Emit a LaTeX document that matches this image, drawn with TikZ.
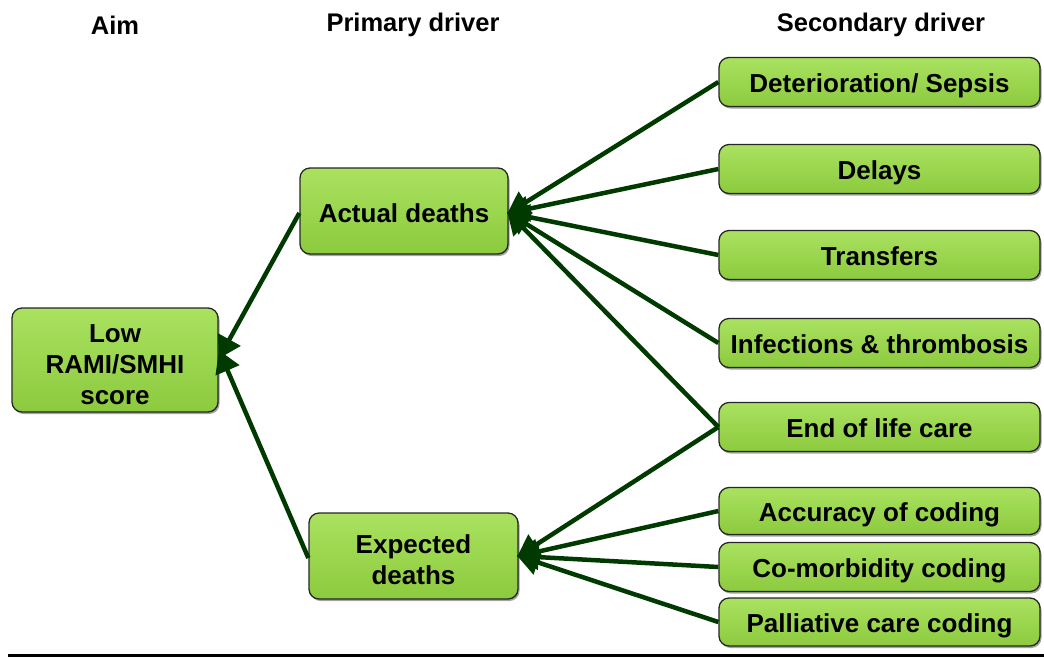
\documentclass[tikz,border=0pt]{standalone}
\usepackage{fontspec}
\setmainfont{Liberation Sans}
\usetikzlibrary{arrows.meta,shadows}
\definecolor{boxtop}{RGB}{170,226,96}
\definecolor{boxbot}{RGB}{140,202,62}
\definecolor{arrowgreen}{RGB}{0,58,0}
\tikzset{
  drv/.style={draw=black!85, line width=1.3pt, rounded corners=10pt,
    top color=boxtop, bottom color=boxbot, align=center,
    font=\fontsize{26}{31}\selectfont\bfseries, inner sep=0pt,
    drop shadow={shadow xshift=1.5pt, shadow yshift=-2pt, fill=black!60, opacity=.6}},
  aimbox/.style={drv, minimum width=206pt, minimum height=104pt},
  primbox/.style={drv, minimum width=208pt, minimum height=86pt},
  secbox/.style={drv, minimum width=321pt, minimum height=49pt, text height=27pt, text depth=6pt},
  hdr/.style={font=\fontsize{25.5}{30}\selectfont\bfseries, inner sep=0pt},
  conn/.style={draw=arrowgreen, line width=4.5pt,
    -{Triangle[length=22pt,width=25pt]}, shorten >=-2pt},
}
\newcommand{\topgap}[1]{\rule{0pt}{#1}}
\begin{document}
\begin{tikzpicture}[x=1pt,y=-1pt]
\useasboundingbox (0,0) rectangle (1044,657);
% headers
\node[hdr] (h1) at (115,25) {Aim};
\node[hdr] (h2) at (413,25) {Primary driver};
\node[hdr] (h3) at (881,25) {Secondary driver};
% nodes
\node[aimbox] (aim) at (115,360) {\topgap{27pt}Low\\RAMI/SMHI\\score};
\node[primbox, text height=28pt, text depth=6pt] (actual) at (404,211) {Actual deaths};
\node[primbox, minimum width=209pt] (expected) at (413.5,556) {\topgap{26pt}Expected\\deaths};
\node[secbox] (s1) at (879.5,82) {Deterioration/ Sepsis};
\node[secbox] (s2) at (879.5,169) {Delays};
\node[secbox] (s3) at (879.5,255) {Transfers};
\node[secbox] (s4) at (879.5,343) {Infections \& thrombosis};
\node[secbox] (s5) at (879.5,427) {End of life care};
\node[secbox, minimum height=47pt] (s6) at (879.5,511) {Accuracy of coding};
\node[secbox] (s7) at (879.5,567) {Co-morbidity coding};
\node[secbox, minimum height=48pt] (s8) at (879.5,622) {Palliative care coding};
% connectors
\foreach \s in {s1,s2,s3,s4,s5}
  \draw[conn] (\s.west) -- ([yshift=-2pt]actual.east);
\foreach \s in {s5,s6,s7,s8}
  \draw[conn] (\s.west) -- (expected.east);
\draw[conn] ([yshift=-2pt]actual.west) -- ([xshift=1pt,yshift=3pt]aim.east);
\draw[conn] ([yshift=-2pt]expected.west) -- ([xshift=1pt,yshift=8pt]aim.east);
% bottom rule
\coordinate (r1) at (8,655.5);
\coordinate (r2) at (1044,655.5);
\draw[line width=3pt] (r1) -- (r2);
\end{tikzpicture}
\end{document}
